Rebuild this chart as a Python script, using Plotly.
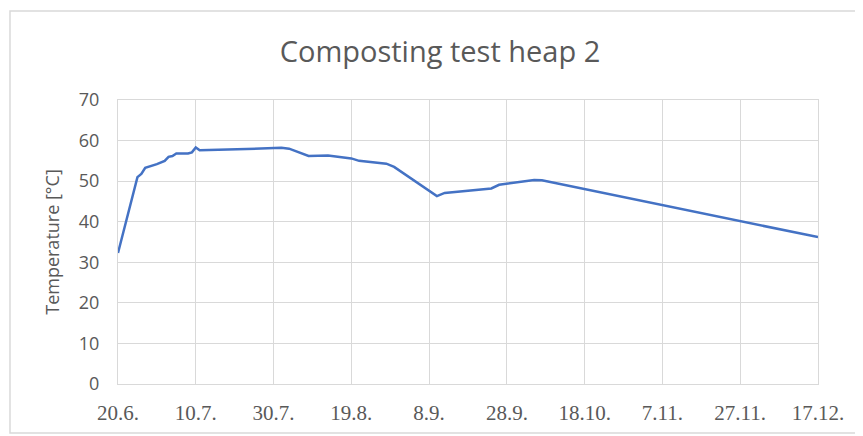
import plotly.graph_objects as go

dates = [
    "2019-06-20", "2019-06-25", "2019-06-26", "2019-06-27", "2019-06-30",
    "2019-07-02", "2019-07-03", "2019-07-04", "2019-07-05", "2019-07-08",
    "2019-07-09", "2019-07-10", "2019-07-11", "2019-07-30", "2019-08-01",
    "2019-08-03", "2019-08-06", "2019-08-08", "2019-08-13", "2019-08-16",
    "2019-08-19", "2019-08-21", "2019-08-28", "2019-08-30", "2019-09-10",
    "2019-09-12", "2019-09-24", "2019-09-26", "2019-09-30", "2019-10-05",
    "2019-10-07", "2019-12-17",
]
temperature = [
    32.3, 51.0, 51.8, 53.3, 54.2,
    55.0, 56.0, 56.2, 56.8, 56.8,
    57.1, 58.3, 57.6, 58.0, 58.2,
    58.0, 57.0, 56.2, 56.3, 55.9,
    55.6, 55.0, 54.3, 53.5, 46.3,
    47.1, 48.2, 49.1, 49.7, 50.3,
    50.2, 36.2,
]

grey = "#595959"
grid = "#D9D9D9"

fig = go.Figure()
fig.add_trace(go.Scatter(
    x=dates,
    y=temperature,
    mode="lines",
    line=dict(color="#4472C4", width=2.5),
    showlegend=False,
))

# outer chart-area frame (Excel style)
fig.add_shape(
    type="rect", xref="paper", yref="paper",
    x0=-0.1543, x1=1.1, y0=-0.1725, y1=1.3134,
    line=dict(color="#D9D9D9", width=1.5),
)

fig.update_layout(
    width=863,
    height=436,
    margin=dict(l=110, r=53, t=92, b=60, autoexpand=False),
    paper_bgcolor="white",
    plot_bgcolor="white",
    font=dict(family="Open Sans", color=grey),
    title=dict(
        text="Composting test heap 2",
        x=0.5006, xref="container", xanchor="center",
        y=0.899, yref="container", yanchor="middle",
        font=dict(size=29, color=grey),
    ),
    xaxis=dict(
        type="date",
        range=["2019-06-20", "2019-12-17"],
        tick0="2019-06-20",
        dtick=20 * 24 * 3600 * 1000,
        tickformat="%-d.%-m.",
        showgrid=True,
        gridcolor=grid,
        showline=True,
        linecolor=grid,
        mirror=True,
        ticks="",
        automargin=False,
        ticklabelstandoff=10,
        tickfont=dict(family="Liberation Sans Narrow", size=21, color=grey),
        zeroline=False,
    ),
    yaxis=dict(
        range=[0, 70],
        dtick=10,
        showgrid=True,
        gridcolor=grid,
        showline=True,
        linecolor=grid,
        mirror=True,
        ticks="",
        automargin=False,
        ticklabelstandoff=14,
        tickfont=dict(size=18, color=grey),
        title=dict(text="Temperature [°C]", font=dict(size=18, color=grey), standoff=14),
        zeroline=False,
    ),
)

fig.write_html("out.html")
